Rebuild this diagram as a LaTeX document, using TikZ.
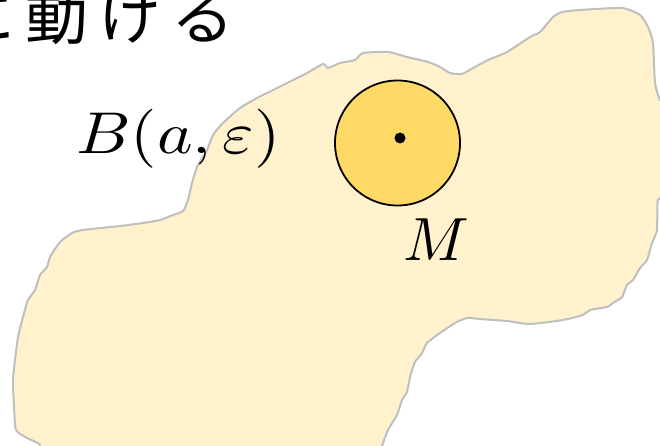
\documentclass[tikz,border=0pt]{standalone}
\usepackage{fontspec}
\newfontfamily\jpfont{Noto Sans CJK JP}
\usepackage{graphicx}
\definecolor{blobfill}{HTML}{FFF2CC}
\definecolor{blobline}{HTML}{BFBFBF}
\definecolor{ballfill}{HTML}{FFD966}
\tikzset{
  blob/.style={fill=blobfill, draw=blobline, line width=2pt, line join=round},
  ball/.style={circle, fill=ballfill, draw=black, line width=1.8pt, minimum size=125pt, inner sep=0pt},
  centerdot/.style={circle, fill=black, minimum size=11pt, inner sep=0pt},
  mathlabel/.style={inner sep=0pt},
  jptext/.style={inner sep=0pt, font=\jpfont\fontsize{63}{70}\selectfont}
}
\begin{document}
\begin{tikzpicture}[x=1pt,y=-1pt]
\useasboundingbox (0,0) rectangle (660,446);
\clip (0,0) rectangle (660,446);
\draw[blob] plot[smooth, tension=0.35] coordinates {
(30,458) (40,445) (27,438) (16,430) (14,407) (13,380) (15,360) (18,337) (23,317) (28,300) (35,290) (40,275) (47,267) (50,257) (60,242) (72,233) (83,230) (120,226) (143,223) (160,220) (173,215) (183,211) (188,200) (192,183) (197,167) (207,150) (213,135) (223,123) (240,108) (257,98) (267,93) (287,83) (307,73) (323,64) (328,68) (340,63) (355,60) (363,53) (388,52) (407,57) (428,62) (440,67) (450,73) (462,74) (473,68) (488,60) (507,52) (530,37) (540,32) (553,17) (562,12) (580,10) (622,8) (640,15) (648,27) (653,43) (655,83) (660,100) (670,110) (670,190) (658,200) (657,230) (652,243) (647,260) (640,268) (633,280) (627,285) (622,297) (613,303) (607,307) (590,310) (583,315) (563,320) (530,324) (507,321) (480,319) (467,318) (455,323) (440,333) (427,343) (422,353) (415,362) (410,377) (407,392) (402,400) (397,415) (388,430) (382,446) (378,458)} -- cycle;
\node[ball] (ball) at (397.5,143) {};
\node[centerdot] (dot) at (400,138) {};
\node[mathlabel, anchor=base west] (blabel) at (76,154) {\scalebox{6.75}[5.9]{$B(a,\varepsilon)$}};
\node[mathlabel, anchor=base] (mlabel) at (436,260) {\scalebox{6.1}{$M$}};
\node[jptext, anchor=base west] (jp) at (-48,40) {に\hspace{10pt}動\hspace{10pt}け\hspace{10pt}る};
\end{tikzpicture}
\end{document}
